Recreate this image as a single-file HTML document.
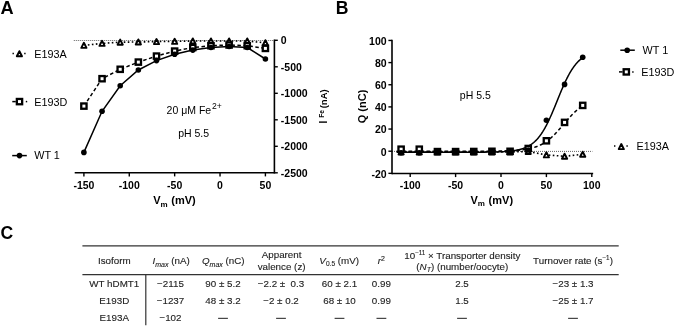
<!DOCTYPE html>
<html><head><meta charset="utf-8"><style>
html,body{margin:0;padding:0;background:#fff;width:675px;height:327px;overflow:hidden;}
body{position:relative;font-family:"Liberation Sans", sans-serif;filter:grayscale(1) blur(0.3px);}
svg text{font-family:"Liberation Sans", sans-serif;}
</style></head><body>
<svg width="675" height="327" viewBox="0 0 675 327" font-family='"Liberation Sans", sans-serif' style="position:absolute;left:0;top:0">
<rect width="675" height="327" fill="#fff"/>
<text x="0.50" y="13.80" font-size="18.2" font-weight="bold" text-anchor="start" fill="#000" >A</text>
<text x="335.80" y="13.90" font-size="17.6" font-weight="bold" text-anchor="start" fill="#000" >B</text>
<text x="0.50" y="238.80" font-size="17.6" font-weight="bold" text-anchor="start" fill="#000" >C</text>
<line x1="73.80" y1="40.50" x2="274.40" y2="40.50" stroke="#555" stroke-width="0.9" stroke-dasharray="1 1"/>
<polyline points="83.90,45.40 102.05,43.40 120.20,42.20 138.35,42.00 156.50,41.60 174.65,41.40 192.80,41.00 210.95,41.00 229.10,41.00 247.25,41.00 265.40,42.80" fill="none" stroke="#000" stroke-width="1.6" stroke-dasharray="1.6 2.4"/>
<polyline points="83.90,106.10 102.05,78.70 120.20,69.30 138.35,62.10 156.50,56.10 174.65,51.10 192.80,47.50 210.95,45.70 229.10,45.00 247.25,45.70 265.40,48.40" fill="none" stroke="#000" stroke-width="1.5" stroke-dasharray="3.5 2.5"/>
<polyline points="83.90,152.40 102.05,111.30 120.20,85.70 138.35,70.00 156.50,60.60 174.65,54.20 192.80,50.10 210.95,47.50 229.10,46.50 247.25,47.50 265.40,59.00" fill="none" stroke="#000" stroke-width="1.5" />
<polygon points="83.90,42.80 86.50,47.90 81.30,47.90" fill="#fff" stroke="#000" stroke-width="1.9" stroke-linejoin="round"/>
<polygon points="102.05,40.80 104.65,45.90 99.45,45.90" fill="#fff" stroke="#000" stroke-width="1.9" stroke-linejoin="round"/>
<polygon points="120.20,39.60 122.80,44.70 117.60,44.70" fill="#fff" stroke="#000" stroke-width="1.9" stroke-linejoin="round"/>
<polygon points="138.35,39.40 140.95,44.50 135.75,44.50" fill="#fff" stroke="#000" stroke-width="1.9" stroke-linejoin="round"/>
<polygon points="156.50,39.00 159.10,44.10 153.90,44.10" fill="#fff" stroke="#000" stroke-width="1.9" stroke-linejoin="round"/>
<polygon points="174.65,38.80 177.25,43.90 172.05,43.90" fill="#fff" stroke="#000" stroke-width="1.9" stroke-linejoin="round"/>
<polygon points="192.80,38.40 195.40,43.50 190.20,43.50" fill="#fff" stroke="#000" stroke-width="1.9" stroke-linejoin="round"/>
<polygon points="210.95,38.40 213.55,43.50 208.35,43.50" fill="#fff" stroke="#000" stroke-width="1.9" stroke-linejoin="round"/>
<polygon points="229.10,38.40 231.70,43.50 226.50,43.50" fill="#fff" stroke="#000" stroke-width="1.9" stroke-linejoin="round"/>
<polygon points="247.25,38.40 249.85,43.50 244.65,43.50" fill="#fff" stroke="#000" stroke-width="1.9" stroke-linejoin="round"/>
<polygon points="265.40,40.20 268.00,45.30 262.80,45.30" fill="#fff" stroke="#000" stroke-width="1.9" stroke-linejoin="round"/>
<rect x="81.25" y="103.45" width="5.3" height="5.3" fill="#fff" stroke="#000" stroke-width="2.3"/>
<rect x="99.40" y="76.05" width="5.3" height="5.3" fill="#fff" stroke="#000" stroke-width="2.3"/>
<rect x="117.55" y="66.65" width="5.3" height="5.3" fill="#fff" stroke="#000" stroke-width="2.3"/>
<rect x="135.70" y="59.45" width="5.3" height="5.3" fill="#fff" stroke="#000" stroke-width="2.3"/>
<rect x="153.85" y="53.45" width="5.3" height="5.3" fill="#fff" stroke="#000" stroke-width="2.3"/>
<rect x="172.00" y="48.45" width="5.3" height="5.3" fill="#fff" stroke="#000" stroke-width="2.3"/>
<rect x="190.15" y="44.85" width="5.3" height="5.3" fill="#fff" stroke="#000" stroke-width="2.3"/>
<rect x="208.30" y="43.05" width="5.3" height="5.3" fill="#fff" stroke="#000" stroke-width="2.3"/>
<rect x="226.45" y="42.35" width="5.3" height="5.3" fill="#fff" stroke="#000" stroke-width="2.3"/>
<rect x="244.60" y="43.05" width="5.3" height="5.3" fill="#fff" stroke="#000" stroke-width="2.3"/>
<rect x="262.75" y="45.75" width="5.3" height="5.3" fill="#fff" stroke="#000" stroke-width="2.3"/>
<circle cx="83.90" cy="152.40" r="2.8" fill="#000"/>
<circle cx="102.05" cy="111.30" r="2.8" fill="#000"/>
<circle cx="120.20" cy="85.70" r="2.8" fill="#000"/>
<circle cx="138.35" cy="70.00" r="2.8" fill="#000"/>
<circle cx="156.50" cy="60.60" r="2.8" fill="#000"/>
<circle cx="174.65" cy="54.20" r="2.8" fill="#000"/>
<circle cx="192.80" cy="50.10" r="2.8" fill="#000"/>
<circle cx="210.95" cy="47.50" r="2.8" fill="#000"/>
<circle cx="229.10" cy="46.50" r="2.8" fill="#000"/>
<circle cx="247.25" cy="47.50" r="2.8" fill="#000"/>
<circle cx="265.40" cy="59.00" r="2.8" fill="#000"/>
<line x1="274.40" y1="39.55" x2="274.40" y2="173.55" stroke="#000" stroke-width="1.6" />
<line x1="74.70" y1="172.80" x2="274.40" y2="172.80" stroke="#000" stroke-width="1.6" />
<line x1="274.40" y1="40.30" x2="277.80" y2="40.30" stroke="#000" stroke-width="1.4" />
<text x="280.80" y="44.10" font-size="10.5" font-weight="bold" text-anchor="start" fill="#000" >0</text>
<line x1="274.40" y1="66.80" x2="277.80" y2="66.80" stroke="#000" stroke-width="1.4" />
<text x="280.80" y="70.60" font-size="10.5" font-weight="bold" text-anchor="start" fill="#000" >-500</text>
<line x1="274.40" y1="93.30" x2="277.80" y2="93.30" stroke="#000" stroke-width="1.4" />
<text x="280.80" y="97.10" font-size="10.5" font-weight="bold" text-anchor="start" fill="#000" >-1000</text>
<line x1="274.40" y1="119.80" x2="277.80" y2="119.80" stroke="#000" stroke-width="1.4" />
<text x="280.80" y="123.60" font-size="10.5" font-weight="bold" text-anchor="start" fill="#000" >-1500</text>
<line x1="274.40" y1="146.30" x2="277.80" y2="146.30" stroke="#000" stroke-width="1.4" />
<text x="280.80" y="150.10" font-size="10.5" font-weight="bold" text-anchor="start" fill="#000" >-2000</text>
<line x1="274.40" y1="172.80" x2="277.80" y2="172.80" stroke="#000" stroke-width="1.4" />
<text x="280.80" y="176.60" font-size="10.5" font-weight="bold" text-anchor="start" fill="#000" >-2500</text>
<line x1="83.90" y1="172.80" x2="83.90" y2="176.40" stroke="#000" stroke-width="1.4" />
<text x="83.90" y="188.60" font-size="10.5" font-weight="bold" text-anchor="middle" fill="#000" >-150</text>
<line x1="129.28" y1="172.80" x2="129.28" y2="176.40" stroke="#000" stroke-width="1.4" />
<text x="129.28" y="188.60" font-size="10.5" font-weight="bold" text-anchor="middle" fill="#000" >-100</text>
<line x1="174.65" y1="172.80" x2="174.65" y2="176.40" stroke="#000" stroke-width="1.4" />
<text x="174.65" y="188.60" font-size="10.5" font-weight="bold" text-anchor="middle" fill="#000" >-50</text>
<line x1="220.03" y1="172.80" x2="220.03" y2="176.40" stroke="#000" stroke-width="1.4" />
<text x="220.03" y="188.60" font-size="10.5" font-weight="bold" text-anchor="middle" fill="#000" >0</text>
<line x1="265.40" y1="172.80" x2="265.40" y2="176.40" stroke="#000" stroke-width="1.4" />
<text x="265.40" y="188.60" font-size="10.5" font-weight="bold" text-anchor="middle" fill="#000" >50</text>
<text x="153.2" y="204.3" font-size="11" font-weight="bold">V<tspan font-size="8" dy="2.6">m</tspan><tspan dx="0.6" dy="-2.6"> (mV)</tspan></text>
<g transform="translate(326.6,122.8) rotate(-90)" font-weight="bold"><text x="-0.6" y="0" font-size="10">I</text><text x="5.0" y="-2.7" font-size="6.6">Fe</text><text x="14.5" y="0" font-size="9.5">(nA)</text></g>
<text x="166.6" y="113.8" font-size="10.5">20 μM Fe<tspan font-size="8.6" dx="0.8" dy="-5.0">2+</tspan></text>
<text x="178.20" y="137.00" font-size="10.5" font-weight="normal" text-anchor="start" fill="#000" >pH 5.5</text>
<line x1="12.50" y1="53.50" x2="13.90" y2="53.50" stroke="#000" stroke-width="1.6" />
<line x1="24.20" y1="53.50" x2="25.60" y2="53.50" stroke="#000" stroke-width="1.6" />
<polygon points="19.40,51.20 22.00,56.30 16.80,56.30" fill="#fff" stroke="#000" stroke-width="1.9" stroke-linejoin="round"/>
<text x="34.20" y="57.80" font-size="10.8" font-weight="normal" text-anchor="start" fill="#000" >E193A</text>
<line x1="12.30" y1="101.60" x2="15.80" y2="101.60" stroke="#000" stroke-width="1.5" />
<line x1="25.80" y1="101.60" x2="27.20" y2="101.60" stroke="#000" stroke-width="1.5" />
<rect x="16.85" y="98.95" width="5.3" height="5.3" fill="#fff" stroke="#000" stroke-width="2.3"/>
<text x="34.20" y="105.60" font-size="10.8" font-weight="normal" text-anchor="start" fill="#000" >E193D</text>
<line x1="12.20" y1="155.60" x2="26.80" y2="155.60" stroke="#000" stroke-width="1.5" />
<circle cx="19.50" cy="155.60" r="2.8" fill="#000"/>
<text x="34.20" y="159.20" font-size="10.8" font-weight="normal" text-anchor="start" fill="#000" >WT 1</text>
<line x1="392.00" y1="151.40" x2="592.40" y2="151.40" stroke="#555" stroke-width="0.9" stroke-dasharray="1 1"/>
<polyline points="401.12,152.00 419.28,152.00 437.44,152.00 455.60,152.00 473.76,152.00 491.92,152.00 510.08,152.00 528.24,151.50 546.40,154.90 564.56,156.30 582.72,154.30" fill="none" stroke="#000" stroke-width="1.6" stroke-dasharray="1.6 2.4"/>
<polyline points="396.58,151.20 397.03,151.20 397.49,151.20 397.94,151.20 398.40,151.20 398.85,151.20 399.30,151.20 399.76,151.20 400.21,151.20 400.67,151.20 401.12,151.20 401.57,151.20 402.03,151.20 402.48,151.20 402.94,151.20 403.39,151.20 403.84,151.20 404.30,151.20 404.75,151.20 405.21,151.20 405.66,151.20 406.11,151.20 406.57,151.20 407.02,151.20 407.48,151.20 407.93,151.20 408.38,151.20 408.84,151.20 409.29,151.20 409.75,151.20 410.20,151.20 410.65,151.20 411.11,151.20 411.56,151.20 412.02,151.20 412.47,151.20 412.92,151.20 413.38,151.20 413.83,151.20 414.29,151.20 414.74,151.20 415.19,151.20 415.65,151.20 416.10,151.20 416.56,151.20 417.01,151.20 417.46,151.20 417.92,151.20 418.37,151.20 418.83,151.20 419.28,151.20 419.73,151.20 420.19,151.20 420.64,151.20 421.10,151.20 421.55,151.20 422.00,151.20 422.46,151.20 422.91,151.20 423.37,151.20 423.82,151.20 424.27,151.20 424.73,151.20 425.18,151.20 425.64,151.20 426.09,151.20 426.54,151.20 427.00,151.20 427.45,151.20 427.91,151.20 428.36,151.20 428.81,151.20 429.27,151.20 429.72,151.20 430.18,151.20 430.63,151.20 431.08,151.20 431.54,151.20 431.99,151.20 432.45,151.20 432.90,151.20 433.35,151.20 433.81,151.20 434.26,151.20 434.72,151.20 435.17,151.20 435.62,151.20 436.08,151.20 436.53,151.20 436.99,151.20 437.44,151.20 437.89,151.20 438.35,151.20 438.80,151.20 439.26,151.20 439.71,151.20 440.16,151.20 440.62,151.20 441.07,151.20 441.53,151.20 441.98,151.20 442.43,151.20 442.89,151.20 443.34,151.20 443.80,151.20 444.25,151.20 444.70,151.20 445.16,151.20 445.61,151.20 446.07,151.20 446.52,151.20 446.97,151.20 447.43,151.20 447.88,151.20 448.34,151.20 448.79,151.20 449.24,151.20 449.70,151.20 450.15,151.20 450.61,151.20 451.06,151.20 451.51,151.20 451.97,151.20 452.42,151.20 452.88,151.20 453.33,151.20 453.78,151.20 454.24,151.20 454.69,151.20 455.15,151.20 455.60,151.20 456.05,151.20 456.51,151.20 456.96,151.20 457.42,151.20 457.87,151.20 458.32,151.19 458.78,151.19 459.23,151.19 459.69,151.19 460.14,151.19 460.59,151.19 461.05,151.19 461.50,151.19 461.96,151.19 462.41,151.19 462.86,151.19 463.32,151.19 463.77,151.19 464.23,151.19 464.68,151.19 465.13,151.19 465.59,151.19 466.04,151.19 466.50,151.19 466.95,151.19 467.40,151.19 467.86,151.19 468.31,151.19 468.77,151.19 469.22,151.19 469.67,151.19 470.13,151.19 470.58,151.18 471.04,151.18 471.49,151.18 471.94,151.18 472.40,151.18 472.85,151.18 473.31,151.18 473.76,151.18 474.21,151.18 474.67,151.18 475.12,151.18 475.58,151.18 476.03,151.18 476.48,151.17 476.94,151.17 477.39,151.17 477.85,151.17 478.30,151.17 478.75,151.17 479.21,151.17 479.66,151.17 480.12,151.16 480.57,151.16 481.02,151.16 481.48,151.16 481.93,151.16 482.39,151.16 482.84,151.16 483.29,151.15 483.75,151.15 484.20,151.15 484.66,151.15 485.11,151.15 485.56,151.14 486.02,151.14 486.47,151.14 486.93,151.14 487.38,151.13 487.83,151.13 488.29,151.13 488.74,151.13 489.20,151.12 489.65,151.12 490.10,151.12 490.56,151.11 491.01,151.11 491.47,151.10 491.92,151.10 492.37,151.10 492.83,151.09 493.28,151.09 493.74,151.08 494.19,151.08 494.64,151.07 495.10,151.07 495.55,151.06 496.01,151.06 496.46,151.05 496.91,151.05 497.37,151.04 497.82,151.03 498.28,151.03 498.73,151.02 499.18,151.01 499.64,151.01 500.09,151.00 500.55,150.99 501.00,150.98 501.45,150.97 501.91,150.96 502.36,150.95 502.82,150.94 503.27,150.93 503.72,150.92 504.18,150.91 504.63,150.90 505.09,150.89 505.54,150.87 505.99,150.86 506.45,150.85 506.90,150.83 507.36,150.82 507.81,150.80 508.26,150.79 508.72,150.77 509.17,150.75 509.63,150.73 510.08,150.72 510.53,150.70 510.99,150.68 511.44,150.65 511.90,150.63 512.35,150.61 512.80,150.59 513.26,150.56 513.71,150.53 514.17,150.51 514.62,150.48 515.07,150.45 515.53,150.42 515.98,150.39 516.44,150.36 516.89,150.32 517.34,150.29 517.80,150.25 518.25,150.22 518.71,150.18 519.16,150.13 519.61,150.09 520.07,150.05 520.52,150.00 520.98,149.95 521.43,149.91 521.88,149.85 522.34,149.80 522.79,149.75 523.25,149.69 523.70,149.63 524.15,149.57 524.61,149.50 525.06,149.44 525.52,149.37 525.97,149.29 526.42,149.22 526.88,149.14 527.33,149.06 527.79,148.98 528.24,148.89 528.69,148.80 529.15,148.71 529.60,148.61 530.06,148.51 530.51,148.41 530.96,148.30 531.42,148.19 531.87,148.07 532.33,147.95 532.78,147.83 533.23,147.70 533.69,147.57 534.14,147.43 534.60,147.29 535.05,147.14 535.50,146.99 535.96,146.83 536.41,146.67 536.87,146.50 537.32,146.33 537.77,146.15 538.23,145.96 538.68,145.77 539.14,145.57 539.59,145.37 540.04,145.16 540.50,144.94 540.95,144.72 541.41,144.49 541.86,144.25 542.31,144.01 542.77,143.75 543.22,143.49 543.68,143.23 544.13,142.95 544.58,142.67 545.04,142.38 545.49,142.08 545.95,141.78 546.40,141.46 546.85,141.14 547.31,140.81 547.76,140.47 548.22,140.12 548.67,139.77 549.12,139.41 549.58,139.04 550.03,138.66 550.49,138.27 550.94,137.87 551.39,137.47 551.85,137.06 552.30,136.64 552.76,136.21 553.21,135.77 553.66,135.33 554.12,134.88 554.57,134.43 555.03,133.96 555.48,133.49 555.93,133.01 556.39,132.53 556.84,132.04 557.30,131.55 557.75,131.05 558.20,130.54 558.66,130.03 559.11,129.52 559.57,129.00 560.02,128.48 560.47,127.95 560.93,127.43 561.38,126.90 561.84,126.36 562.29,125.83 562.74,125.30 563.20,124.76 563.65,124.22 564.11,123.69 564.56,123.15 565.01,122.62 565.47,122.08 565.92,121.55 566.38,121.02 566.83,120.50 567.28,119.97 567.74,119.45 568.19,118.94 568.65,118.42 569.10,117.91 569.55,117.41 570.01,116.91 570.46,116.42 570.92,115.93 571.37,115.45 571.82,114.98 572.28,114.51 572.73,114.05 573.19,113.59 573.64,113.15 574.09,112.71 574.55,112.27 575.00,111.85 575.46,111.43 575.91,111.02 576.36,110.62 576.82,110.23 577.27,109.84 577.73,109.47 578.18,109.10 578.63,108.74 579.09,108.38 579.54,108.04 580.00,107.70 580.45,107.38 580.90,107.06 581.36,106.75 581.81,106.44 582.27,106.15 582.72,105.86" fill="none" stroke="#000" stroke-width="1.5" stroke-dasharray="3.5 2.5"/>
<polyline points="396.58,152.23 397.03,152.23 397.49,152.23 397.94,152.23 398.40,152.23 398.85,152.23 399.30,152.23 399.76,152.23 400.21,152.23 400.67,152.23 401.12,152.23 401.57,152.23 402.03,152.23 402.48,152.23 402.94,152.23 403.39,152.23 403.84,152.23 404.30,152.23 404.75,152.23 405.21,152.23 405.66,152.23 406.11,152.23 406.57,152.23 407.02,152.23 407.48,152.23 407.93,152.23 408.38,152.23 408.84,152.23 409.29,152.23 409.75,152.23 410.20,152.23 410.65,152.23 411.11,152.23 411.56,152.23 412.02,152.23 412.47,152.23 412.92,152.23 413.38,152.23 413.83,152.23 414.29,152.23 414.74,152.23 415.19,152.23 415.65,152.23 416.10,152.23 416.56,152.23 417.01,152.23 417.46,152.23 417.92,152.23 418.37,152.23 418.83,152.23 419.28,152.23 419.73,152.23 420.19,152.23 420.64,152.23 421.10,152.23 421.55,152.23 422.00,152.23 422.46,152.23 422.91,152.23 423.37,152.23 423.82,152.23 424.27,152.23 424.73,152.23 425.18,152.23 425.64,152.23 426.09,152.23 426.54,152.23 427.00,152.23 427.45,152.23 427.91,152.23 428.36,152.23 428.81,152.23 429.27,152.23 429.72,152.23 430.18,152.23 430.63,152.23 431.08,152.23 431.54,152.23 431.99,152.23 432.45,152.23 432.90,152.23 433.35,152.23 433.81,152.23 434.26,152.23 434.72,152.23 435.17,152.23 435.62,152.23 436.08,152.23 436.53,152.23 436.99,152.23 437.44,152.23 437.89,152.23 438.35,152.23 438.80,152.23 439.26,152.23 439.71,152.23 440.16,152.23 440.62,152.23 441.07,152.23 441.53,152.23 441.98,152.23 442.43,152.23 442.89,152.23 443.34,152.23 443.80,152.23 444.25,152.23 444.70,152.23 445.16,152.23 445.61,152.23 446.07,152.23 446.52,152.23 446.97,152.23 447.43,152.23 447.88,152.23 448.34,152.23 448.79,152.23 449.24,152.23 449.70,152.23 450.15,152.23 450.61,152.23 451.06,152.23 451.51,152.23 451.97,152.23 452.42,152.23 452.88,152.23 453.33,152.23 453.78,152.23 454.24,152.22 454.69,152.22 455.15,152.22 455.60,152.22 456.05,152.22 456.51,152.22 456.96,152.22 457.42,152.22 457.87,152.22 458.32,152.22 458.78,152.22 459.23,152.22 459.69,152.22 460.14,152.22 460.59,152.22 461.05,152.22 461.50,152.22 461.96,152.22 462.41,152.22 462.86,152.22 463.32,152.22 463.77,152.22 464.23,152.22 464.68,152.22 465.13,152.22 465.59,152.21 466.04,152.21 466.50,152.21 466.95,152.21 467.40,152.21 467.86,152.21 468.31,152.21 468.77,152.21 469.22,152.21 469.67,152.21 470.13,152.21 470.58,152.21 471.04,152.20 471.49,152.20 471.94,152.20 472.40,152.20 472.85,152.20 473.31,152.20 473.76,152.20 474.21,152.19 474.67,152.19 475.12,152.19 475.58,152.19 476.03,152.19 476.48,152.19 476.94,152.18 477.39,152.18 477.85,152.18 478.30,152.18 478.75,152.18 479.21,152.17 479.66,152.17 480.12,152.17 480.57,152.17 481.02,152.16 481.48,152.16 481.93,152.16 482.39,152.15 482.84,152.15 483.29,152.15 483.75,152.14 484.20,152.14 484.66,152.13 485.11,152.13 485.56,152.12 486.02,152.12 486.47,152.12 486.93,152.11 487.38,152.10 487.83,152.10 488.29,152.09 488.74,152.09 489.20,152.08 489.65,152.07 490.10,152.07 490.56,152.06 491.01,152.05 491.47,152.04 491.92,152.04 492.37,152.03 492.83,152.02 493.28,152.01 493.74,152.00 494.19,151.99 494.64,151.98 495.10,151.97 495.55,151.96 496.01,151.94 496.46,151.93 496.91,151.92 497.37,151.90 497.82,151.89 498.28,151.87 498.73,151.86 499.18,151.84 499.64,151.82 500.09,151.81 500.55,151.79 501.00,151.77 501.45,151.75 501.91,151.73 502.36,151.70 502.82,151.68 503.27,151.66 503.72,151.63 504.18,151.60 504.63,151.58 505.09,151.55 505.54,151.52 505.99,151.49 506.45,151.45 506.90,151.42 507.36,151.38 507.81,151.34 508.26,151.31 508.72,151.26 509.17,151.22 509.63,151.18 510.08,151.13 510.53,151.08 510.99,151.03 511.44,150.98 511.90,150.92 512.35,150.87 512.80,150.81 513.26,150.74 513.71,150.68 514.17,150.61 514.62,150.54 515.07,150.46 515.53,150.39 515.98,150.31 516.44,150.22 516.89,150.13 517.34,150.04 517.80,149.95 518.25,149.85 518.71,149.74 519.16,149.64 519.61,149.52 520.07,149.41 520.52,149.28 520.98,149.16 521.43,149.02 521.88,148.89 522.34,148.74 522.79,148.59 523.25,148.43 523.70,148.27 524.15,148.10 524.61,147.93 525.06,147.74 525.52,147.55 525.97,147.35 526.42,147.14 526.88,146.93 527.33,146.71 527.79,146.47 528.24,146.23 528.69,145.98 529.15,145.72 529.60,145.45 530.06,145.16 530.51,144.87 530.96,144.57 531.42,144.25 531.87,143.93 532.33,143.59 532.78,143.23 533.23,142.87 533.69,142.49 534.14,142.10 534.60,141.69 535.05,141.27 535.50,140.84 535.96,140.39 536.41,139.92 536.87,139.44 537.32,138.95 537.77,138.43 538.23,137.90 538.68,137.36 539.14,136.79 539.59,136.21 540.04,135.61 540.50,134.99 540.95,134.36 541.41,133.71 541.86,133.03 542.31,132.34 542.77,131.63 543.22,130.90 543.68,130.16 544.13,129.39 544.58,128.61 545.04,127.80 545.49,126.98 545.95,126.14 546.40,125.28 546.85,124.40 547.31,123.51 547.76,122.60 548.22,121.67 548.67,120.72 549.12,119.76 549.58,118.78 550.03,117.79 550.49,116.79 550.94,115.77 551.39,114.73 551.85,113.69 552.30,112.63 552.76,111.56 553.21,110.49 553.66,109.40 554.12,108.31 554.57,107.21 555.03,106.10 555.48,104.99 555.93,103.87 556.39,102.75 556.84,101.63 557.30,100.51 557.75,99.39 558.20,98.27 558.66,97.16 559.11,96.05 559.57,94.94 560.02,93.83 560.47,92.74 560.93,91.65 561.38,90.57 561.84,89.50 562.29,88.44 562.74,87.39 563.20,86.35 563.65,85.33 564.11,84.32 564.56,83.32 565.01,82.34 565.47,81.37 565.92,80.42 566.38,79.49 566.83,78.57 567.28,77.67 567.74,76.79 568.19,75.92 568.65,75.08 569.10,74.25 569.55,73.44 570.01,72.65 570.46,71.88 570.92,71.12 571.37,70.39 571.82,69.67 572.28,68.98 572.73,68.30 573.19,67.64 573.64,67.00 574.09,66.37 574.55,65.77 575.00,65.18 575.46,64.61 575.91,64.06 576.36,63.52 576.82,63.01 577.27,62.50 577.73,62.02 578.18,61.55 578.63,61.09 579.09,60.65 579.54,60.23 580.00,59.82 580.45,59.42 580.90,59.04 581.36,58.67 581.81,58.32 582.27,57.97 582.72,57.64" fill="none" stroke="#000" stroke-width="1.5" />
<polygon points="401.12,149.40 403.72,154.50 398.52,154.50" fill="#fff" stroke="#000" stroke-width="1.9" stroke-linejoin="round"/>
<polygon points="419.28,149.40 421.88,154.50 416.68,154.50" fill="#fff" stroke="#000" stroke-width="1.9" stroke-linejoin="round"/>
<polygon points="437.44,149.40 440.04,154.50 434.84,154.50" fill="#fff" stroke="#000" stroke-width="1.9" stroke-linejoin="round"/>
<polygon points="455.60,149.40 458.20,154.50 453.00,154.50" fill="#fff" stroke="#000" stroke-width="1.9" stroke-linejoin="round"/>
<polygon points="473.76,149.40 476.36,154.50 471.16,154.50" fill="#fff" stroke="#000" stroke-width="1.9" stroke-linejoin="round"/>
<polygon points="491.92,149.40 494.52,154.50 489.32,154.50" fill="#fff" stroke="#000" stroke-width="1.9" stroke-linejoin="round"/>
<polygon points="510.08,149.40 512.68,154.50 507.48,154.50" fill="#fff" stroke="#000" stroke-width="1.9" stroke-linejoin="round"/>
<polygon points="528.24,148.90 530.84,154.00 525.64,154.00" fill="#fff" stroke="#000" stroke-width="1.9" stroke-linejoin="round"/>
<polygon points="546.40,152.30 549.00,157.40 543.80,157.40" fill="#fff" stroke="#000" stroke-width="1.9" stroke-linejoin="round"/>
<polygon points="564.56,153.70 567.16,158.80 561.96,158.80" fill="#fff" stroke="#000" stroke-width="1.9" stroke-linejoin="round"/>
<polygon points="582.72,151.70 585.32,156.80 580.12,156.80" fill="#fff" stroke="#000" stroke-width="1.9" stroke-linejoin="round"/>
<rect x="398.47" y="146.55" width="5.3" height="5.3" fill="#fff" stroke="#000" stroke-width="2.3"/>
<rect x="416.63" y="146.55" width="5.3" height="5.3" fill="#fff" stroke="#000" stroke-width="2.3"/>
<rect x="434.79" y="148.95" width="5.3" height="5.3" fill="#fff" stroke="#000" stroke-width="2.3"/>
<rect x="452.95" y="148.95" width="5.3" height="5.3" fill="#fff" stroke="#000" stroke-width="2.3"/>
<rect x="471.11" y="148.85" width="5.3" height="5.3" fill="#fff" stroke="#000" stroke-width="2.3"/>
<rect x="489.27" y="148.65" width="5.3" height="5.3" fill="#fff" stroke="#000" stroke-width="2.3"/>
<rect x="507.43" y="148.65" width="5.3" height="5.3" fill="#fff" stroke="#000" stroke-width="2.3"/>
<rect x="525.59" y="145.85" width="5.3" height="5.3" fill="#fff" stroke="#000" stroke-width="2.3"/>
<rect x="543.75" y="138.15" width="5.3" height="5.3" fill="#fff" stroke="#000" stroke-width="2.3"/>
<rect x="561.91" y="119.75" width="5.3" height="5.3" fill="#fff" stroke="#000" stroke-width="2.3"/>
<rect x="580.07" y="102.75" width="5.3" height="5.3" fill="#fff" stroke="#000" stroke-width="2.3"/>
<circle cx="401.12" cy="152.80" r="2.8" fill="#000"/>
<circle cx="419.28" cy="152.80" r="2.8" fill="#000"/>
<circle cx="437.44" cy="151.80" r="2.8" fill="#000"/>
<circle cx="455.60" cy="151.80" r="2.8" fill="#000"/>
<circle cx="473.76" cy="151.50" r="2.8" fill="#000"/>
<circle cx="491.92" cy="151.50" r="2.8" fill="#000"/>
<circle cx="510.08" cy="151.50" r="2.8" fill="#000"/>
<circle cx="528.24" cy="150.00" r="2.8" fill="#000"/>
<circle cx="546.40" cy="120.20" r="2.8" fill="#000"/>
<circle cx="564.56" cy="84.40" r="2.8" fill="#000"/>
<circle cx="582.72" cy="57.30" r="2.8" fill="#000"/>
<line x1="392.00" y1="39.65" x2="392.00" y2="174.25" stroke="#000" stroke-width="1.6" />
<line x1="392.00" y1="173.50" x2="593.15" y2="173.50" stroke="#000" stroke-width="1.6" />
<line x1="388.40" y1="40.45" x2="392.00" y2="40.45" stroke="#000" stroke-width="1.4" />
<text x="386.60" y="44.85" font-size="10.5" font-weight="bold" text-anchor="end" fill="#000" >100</text>
<line x1="388.40" y1="62.60" x2="392.00" y2="62.60" stroke="#000" stroke-width="1.4" />
<text x="386.60" y="67.00" font-size="10.5" font-weight="bold" text-anchor="end" fill="#000" >80</text>
<line x1="388.40" y1="84.75" x2="392.00" y2="84.75" stroke="#000" stroke-width="1.4" />
<text x="386.60" y="89.15" font-size="10.5" font-weight="bold" text-anchor="end" fill="#000" >60</text>
<line x1="388.40" y1="106.90" x2="392.00" y2="106.90" stroke="#000" stroke-width="1.4" />
<text x="386.60" y="111.30" font-size="10.5" font-weight="bold" text-anchor="end" fill="#000" >40</text>
<line x1="388.40" y1="129.05" x2="392.00" y2="129.05" stroke="#000" stroke-width="1.4" />
<text x="386.60" y="133.45" font-size="10.5" font-weight="bold" text-anchor="end" fill="#000" >20</text>
<line x1="388.40" y1="151.20" x2="392.00" y2="151.20" stroke="#000" stroke-width="1.4" />
<text x="386.60" y="155.60" font-size="10.5" font-weight="bold" text-anchor="end" fill="#000" >0</text>
<line x1="388.40" y1="173.35" x2="392.00" y2="173.35" stroke="#000" stroke-width="1.4" />
<text x="386.60" y="177.75" font-size="10.5" font-weight="bold" text-anchor="end" fill="#000" >-20</text>
<line x1="410.20" y1="173.50" x2="410.20" y2="177.10" stroke="#000" stroke-width="1.4" />
<text x="410.20" y="188.80" font-size="10.5" font-weight="bold" text-anchor="middle" fill="#000" >-100</text>
<line x1="455.60" y1="173.50" x2="455.60" y2="177.10" stroke="#000" stroke-width="1.4" />
<text x="455.60" y="188.80" font-size="10.5" font-weight="bold" text-anchor="middle" fill="#000" >-50</text>
<line x1="501.00" y1="173.50" x2="501.00" y2="177.10" stroke="#000" stroke-width="1.4" />
<text x="501.00" y="188.80" font-size="10.5" font-weight="bold" text-anchor="middle" fill="#000" >0</text>
<line x1="546.40" y1="173.50" x2="546.40" y2="177.10" stroke="#000" stroke-width="1.4" />
<text x="546.40" y="188.80" font-size="10.5" font-weight="bold" text-anchor="middle" fill="#000" >50</text>
<line x1="591.80" y1="173.50" x2="591.80" y2="177.10" stroke="#000" stroke-width="1.4" />
<text x="591.80" y="188.80" font-size="10.5" font-weight="bold" text-anchor="middle" fill="#000" >100</text>
<text x="470.5" y="203.7" font-size="11" font-weight="bold">V<tspan font-size="8" dy="2.6">m</tspan><tspan dx="0.6" dy="-2.6"> (mV)</tspan></text>
<text transform="translate(365.6,106.5) rotate(-90)" font-size="11" font-weight="bold" text-anchor="middle">Q (nC)</text>
<text x="459.80" y="98.80" font-size="10.5" font-weight="normal" text-anchor="start" fill="#000" >pH 5.5</text>
<line x1="620.30" y1="50.20" x2="634.80" y2="50.20" stroke="#000" stroke-width="1.5" />
<circle cx="627.20" cy="50.20" r="2.8" fill="#000"/>
<text x="642.60" y="53.60" font-size="10.8" font-weight="normal" text-anchor="start" fill="#000" >WT 1</text>
<line x1="619.00" y1="71.90" x2="622.60" y2="71.90" stroke="#000" stroke-width="1.5" />
<line x1="632.20" y1="71.90" x2="633.60" y2="71.90" stroke="#000" stroke-width="1.5" />
<rect x="623.65" y="69.25" width="5.3" height="5.3" fill="#fff" stroke="#000" stroke-width="2.3"/>
<text x="641.30" y="76.00" font-size="10.8" font-weight="normal" text-anchor="start" fill="#000" >E193D</text>
<line x1="614.00" y1="146.00" x2="615.40" y2="146.00" stroke="#000" stroke-width="1.6" />
<line x1="626.40" y1="146.00" x2="627.80" y2="146.00" stroke="#000" stroke-width="1.6" />
<polygon points="621.30,144.00 623.90,149.10 618.70,149.10" fill="#fff" stroke="#000" stroke-width="1.9" stroke-linejoin="round"/>
<text x="636.50" y="149.80" font-size="10.8" font-weight="normal" text-anchor="start" fill="#000" >E193A</text>
<line x1="82.40" y1="245.90" x2="618.70" y2="245.90" stroke="#333" stroke-width="1.3" />
<line x1="82.40" y1="274.70" x2="618.70" y2="274.70" stroke="#333" stroke-width="1.3" />
<line x1="145.80" y1="274.70" x2="145.80" y2="325.30" stroke="#333" stroke-width="1.2" />
<text x="114.30" y="264.20" font-size="9.8" text-anchor="middle" fill="#222" stroke="#222" stroke-width="0.12" >Isoform</text>
<text x="171.10" y="264.20" font-size="9.8" text-anchor="middle" fill="#222" stroke="#222" stroke-width="0.12" ><tspan font-style="italic">I</tspan><tspan font-size="7" font-style="italic" dy="2.5">max</tspan><tspan dy="-2.5"> (nA)</tspan></text>
<text x="223.30" y="264.20" font-size="9.8" text-anchor="middle" fill="#222" stroke="#222" stroke-width="0.12" ><tspan font-style="italic">Q</tspan><tspan font-size="7" font-style="italic" dy="2.5">max</tspan><tspan dy="-2.5"> (nC)</tspan></text>
<text x="281.60" y="258.30" font-size="9.8" text-anchor="middle" fill="#222" stroke="#222" stroke-width="0.12" >Apparent</text>
<text x="281.60" y="269.80" font-size="9.8" text-anchor="middle" fill="#222" stroke="#222" stroke-width="0.12" >valence (z)</text>
<text x="339.20" y="264.20" font-size="9.8" text-anchor="middle" fill="#222" stroke="#222" stroke-width="0.12" ><tspan font-style="italic">V</tspan><tspan font-size="6.6" dy="2">0.5</tspan><tspan dy="-2"> (mV)</tspan></text>
<text x="381.30" y="264.20" font-size="9.8" text-anchor="middle" fill="#222" stroke="#222" stroke-width="0.12" ><tspan font-style="italic">r</tspan><tspan font-size="7" dy="-3.5">2</tspan></text>
<text x="462.30" y="258.70" font-size="9.8" text-anchor="middle" fill="#222" stroke="#222" stroke-width="0.12" >10<tspan font-size="6.3" dy="-3.6">−11</tspan><tspan dy="3.6"> × Transporter density</tspan></text>
<text x="462.30" y="270.20" font-size="9.8" text-anchor="middle" fill="#222" stroke="#222" stroke-width="0.12" >(<tspan font-style="italic">N</tspan><tspan font-size="7" font-style="italic" dy="2">T</tspan><tspan dy="-2">) (number/oocyte)</tspan></text>
<text x="573.00" y="264.20" font-size="9.8" text-anchor="middle" fill="#222" stroke="#222" stroke-width="0.12" >Turnover rate (s<tspan font-size="6.3" dy="-3.8">−1</tspan><tspan dy="3.8">)</tspan></text>
<text x="114.30" y="287.10" font-size="9.8" text-anchor="middle" fill="#222" stroke="#222" stroke-width="0.12" >WT hDMT1</text>
<text x="170.50" y="287.10" font-size="9.8" text-anchor="middle" fill="#222" stroke="#222" stroke-width="0.12" >−2115</text>
<text x="223.00" y="287.10" font-size="9.8" text-anchor="middle" fill="#222" stroke="#222" stroke-width="0.12" >90 ± 5.2</text>
<text x="281.00" y="287.10" font-size="9.8" text-anchor="middle" fill="#222" stroke="#222" stroke-width="0.12" xml:space="preserve">−2.2 ±  0.3</text>
<text x="339.50" y="287.10" font-size="9.8" text-anchor="middle" fill="#222" stroke="#222" stroke-width="0.12" >60 ± 2.1</text>
<text x="381.40" y="287.10" font-size="9.8" text-anchor="middle" fill="#222" stroke="#222" stroke-width="0.12" >0.99</text>
<text x="462.00" y="287.10" font-size="9.8" text-anchor="middle" fill="#222" stroke="#222" stroke-width="0.12" >2.5</text>
<text x="573.00" y="287.10" font-size="9.8" text-anchor="middle" fill="#222" stroke="#222" stroke-width="0.12" >−23 ± 1.3</text>
<text x="114.30" y="304.00" font-size="9.8" text-anchor="middle" fill="#222" stroke="#222" stroke-width="0.12" >E193D</text>
<text x="170.50" y="304.00" font-size="9.8" text-anchor="middle" fill="#222" stroke="#222" stroke-width="0.12" >−1237</text>
<text x="223.00" y="304.00" font-size="9.8" text-anchor="middle" fill="#222" stroke="#222" stroke-width="0.12" >48 ± 3.2</text>
<text x="281.00" y="304.00" font-size="9.8" text-anchor="middle" fill="#222" stroke="#222" stroke-width="0.12" >−2 ± 0.2</text>
<text x="339.50" y="304.00" font-size="9.8" text-anchor="middle" fill="#222" stroke="#222" stroke-width="0.12" >68 ± 10</text>
<text x="381.40" y="304.00" font-size="9.8" text-anchor="middle" fill="#222" stroke="#222" stroke-width="0.12" >0.99</text>
<text x="462.00" y="304.00" font-size="9.8" text-anchor="middle" fill="#222" stroke="#222" stroke-width="0.12" >1.5</text>
<text x="573.00" y="304.00" font-size="9.8" text-anchor="middle" fill="#222" stroke="#222" stroke-width="0.12" >−25 ± 1.7</text>
<text x="114.30" y="320.90" font-size="9.8" text-anchor="middle" fill="#222" stroke="#222" stroke-width="0.12" >E193A</text>
<text x="170.50" y="320.90" font-size="9.8" text-anchor="middle" fill="#222" stroke="#222" stroke-width="0.12" >−102</text>
<rect x="218.10" y="317.80" width="9.8" height="1.1" fill="#333"/>
<rect x="276.10" y="317.80" width="9.8" height="1.1" fill="#333"/>
<rect x="334.60" y="317.80" width="9.8" height="1.1" fill="#333"/>
<rect x="376.50" y="317.80" width="9.8" height="1.1" fill="#333"/>
<rect x="457.10" y="317.80" width="9.8" height="1.1" fill="#333"/>
<rect x="568.10" y="317.80" width="9.8" height="1.1" fill="#333"/>
</svg>
</body></html>
